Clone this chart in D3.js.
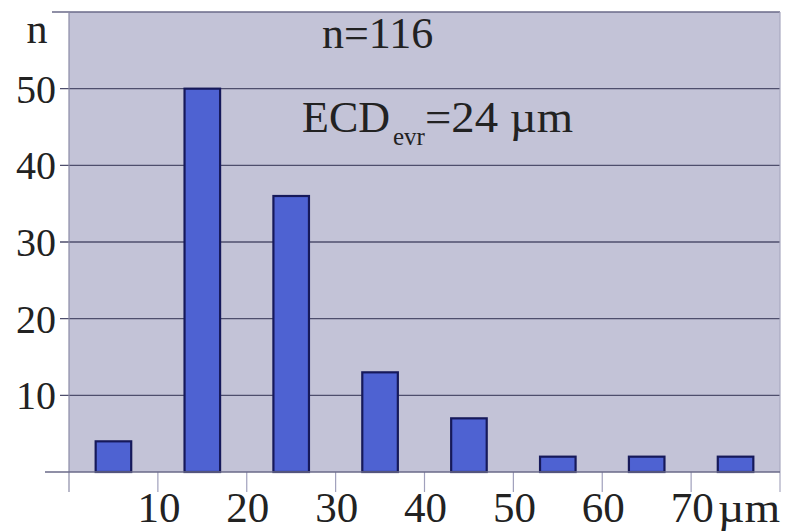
<!DOCTYPE html>
<html>
	<head>
		<meta charset="utf-8">
		<script src="https://cdnjs.cloudflare.com/ajax/libs/d3/7.8.5/d3.min.js"></script>
		<style>
			body { margin: 0; background: #fff; }
			text { font-family: "Liberation Serif", "DejaVu Serif", serif; fill: #222; }
		</style>
	</head>
	<body>
		<div id="chart"></div>
		<script>
			// histogram bins (um) and counts
			var binStarts = [0, 10, 20, 30, 40, 50, 60, 70];
			var counts = [4, 50, 36, 13, 7, 2, 2, 2];
			var yTicks = [10, 20, 30, 40, 50];
			var xTicks = [10, 20, 30, 40, 50, 60, 70];

			var W = 785, H = 532;
			var margin = {top: 12, right: 5, bottom: 60, left: 69};

			var svg = d3.select("#chart").append("svg")
				.attr("width", W).attr("height", H);

			var x = d3.scaleLinear().domain([0, 80]).range([margin.left, W - margin.right]);
			var y = d3.scaleLinear().domain([0, 60]).range([H - margin.bottom, margin.top]);

			//plot background
			svg.append("rect")
				.attr("x", x(0)).attr("y", y(60))
				.attr("width", x(80) - x(0)).attr("height", y(0) - y(60))
				.style("fill", "#c3c3d7");

			//horizontal grid lines, reaching a little left of the axis as tick marks
			svg.selectAll(".grid")
				.data(yTicks)
				.enter().append("line")
				.attr("class", "grid")
				.attr("x1", x(0) - 9).attr("x2", x(80))
				.attr("y1", function(d) { return y(d); })
				.attr("y2", function(d) { return y(d); })
				.style("stroke", "#4e4e6c").style("stroke-width", 1.3);

			//top border line
			svg.append("line")
				.attr("x1", x(0) - 17).attr("x2", x(80))
				.attr("y1", y(60)).attr("y2", y(60))
				.style("stroke", "#6a6a88").style("stroke-width", 1.5);

			//left and right border, running down past the axis
			svg.selectAll(".border")
				.data([0, 80])
				.enter().append("line")
				.attr("class", "border")
				.attr("x1", function(d) { return x(d); })
				.attr("x2", function(d) { return x(d); })
				.attr("y1", y(60)).attr("y2", y(0) + 20)
				.style("stroke", function(d) { return d === 0 ? "#8a8aa6" : "#a8a8c0"; })
				.style("stroke-width", 1.2);

			//x tick marks below the axis
			svg.selectAll(".xtick")
				.data(xTicks)
				.enter().append("line")
				.attr("class", "xtick")
				.attr("x1", function(d) { return x(d); })
				.attr("x2", function(d) { return x(d); })
				.attr("y1", y(0)).attr("y2", y(0) + 20)
				.style("stroke", "#a0a0bc").style("stroke-width", 1.2);

			//bars, centred in each 10 um bin
			svg.selectAll(".bar")
				.data(counts)
				.enter().append("rect")
				.attr("class", "bar")
				.attr("x", function(d, i) { return x(binStarts[i] + 3); })
				.attr("width", x(4) - x(0))
				.attr("y", function(d) { return y(d); })
				.attr("height", function(d) { return y(0) - y(d); })
				.style("fill", "#4e62d2")
				.style("stroke", "#16195a")
				.style("stroke-width", 2.2);

			//bottom axis line
			svg.append("line")
				.attr("x1", x(0) - 24).attr("x2", x(80))
				.attr("y1", y(0)).attr("y2", y(0))
				.style("stroke", "#6a6a88").style("stroke-width", 1.6);

			//y labels
			svg.selectAll(".ylab")
				.data(yTicks)
				.enter().append("text")
				.attr("class", "ylab")
				.attr("x", x(0) - 13)
				.attr("y", function(d) { return y(d) + 14; })
				.style("text-anchor", "end")
				.style("font-size", "40px")
				.text(function(d) { return d; });

			svg.append("text")
				.attr("x", 37).attr("y", 43)
				.style("text-anchor", "middle")
				.style("font-size", "42px")
				.text("n");

			//x labels
			svg.selectAll(".xlab")
				.data(xTicks)
				.enter().append("text")
				.attr("class", "xlab")
				.attr("x", function(d) { return x(d) + 1; })
				.attr("y", 522)
				.style("text-anchor", "middle")
				.style("font-size", "43px")
				.text(function(d) { return d; });

			svg.append("text")
				.attr("x", 718).attr("y", 522)
				.attr("textLength", 62)
				.attr("lengthAdjust", "spacingAndGlyphs")
				.style("font-size", "43px")
				.text("\u00b5m");

			//annotations
			svg.append("text")
				.attr("x", 322).attr("y", 48)
				.style("font-size", "44px")
				.text("n=116");

			svg.append("text")
				.attr("x", 302).attr("y", 132)
				.style("font-size", "44px")
				.text("ECD");
			svg.append("text")
				.attr("x", 393).attr("y", 145)
				.style("font-size", "25px")
				.text("evr");
			svg.append("text")
				.attr("x", 425).attr("y", 132)
				.attr("textLength", 148)
				.attr("lengthAdjust", "spacingAndGlyphs")
				.style("font-size", "44px")
				.text("=24 \u00b5m");
		</script>
	</body>
</html>
